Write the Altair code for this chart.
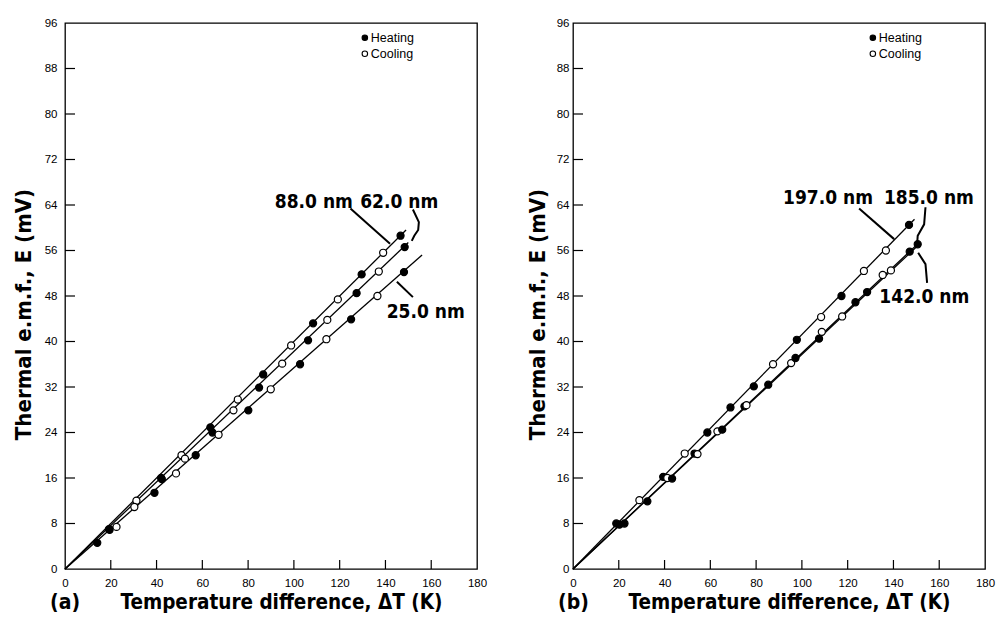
import altair as alt
import pandas as pd

# ---------------- Panel (a) data ----------------
a88_heat_x = [19.2, 42.0, 63.5, 86.6, 108.4, 129.6, 146.6]
a88_heat_y = [7.0, 16.0, 24.9, 34.2, 43.2, 51.8, 58.6]
a88_cool_x = [31.2, 50.9, 75.5, 98.8, 119.2, 139.0]
a88_cool_y = [12.0, 20.0, 29.8, 39.3, 47.4, 55.6]
a88_line_x = [0, 149.0]
a88_line_y = [0, 59.6]

a62_heat_x = [19.5, 42.3, 64.4, 84.8, 106.2, 127.4, 148.4]
a62_heat_y = [6.9, 15.8, 24.0, 31.9, 40.2, 48.5, 56.6]
a62_cool_x = [30.3, 52.4, 73.6, 94.9, 114.6, 137.1]
a62_cool_y = [10.9, 19.4, 27.9, 36.1, 43.8, 52.3]
a62_line_x = [0, 150.0]
a62_line_y = [0, 57.4]

a25_heat_x = [14.1, 39.1, 57.1, 80.1, 102.7, 125.0, 148.1]
a25_heat_y = [4.6, 13.4, 20.0, 27.9, 36.0, 43.9, 52.2]
a25_cool_x = [22.5, 48.5, 67.1, 89.9, 114.2, 136.5]
a25_cool_y = [7.4, 16.8, 23.6, 31.6, 40.4, 48.0]
a25_line_x = [0, 156.0]
a25_line_y = [0, 55.2]

a_label_text = ["88.0 nm", "62.0 nm", "25.0 nm"]
a_label_x = [108.7, 146.0, 157.6]
a_label_y = [64.6, 64.6, 45.2]

a88_lead_x = [124.7, 142.0]
a88_lead_y = [63.4, 57.2]
a62_lead_x = [152.0, 154.6, 154.3, 152.6, 151.5]
a62_lead_y = [63.2, 61.0, 59.6, 58.6, 57.7]
a25_lead_x = [145.0, 152.0]
a25_lead_y = [50.5, 47.8]

# ---------------- Panel (b) data ----------------
b197_heat_x = [18.9, 39.4, 58.7, 68.8, 79.0, 97.8, 117.3, 146.8]
b197_heat_y = [8.0, 16.2, 24.0, 28.4, 32.1, 40.3, 48.0, 60.5]
b197_cool_x = [29.0, 48.8, 87.4, 108.4, 127.1, 136.7]
b197_cool_y = [12.1, 20.3, 36.0, 44.3, 52.4, 56.0]
b197_line_x = [0, 149.2]
b197_line_y = [0, 61.5]

b185_heat_x = [20.3, 53.1, 74.9, 107.5, 123.4, 150.6]
b185_heat_y = [7.8, 20.3, 28.6, 40.5, 46.9, 57.1]
b185_cool_x = [41.2, 63.1, 95.3, 117.6, 138.9]
b185_cool_y = [16.0, 24.2, 36.2, 44.4, 52.5]
b185_line_x = [0, 151.5]
b185_line_y = [0, 57.5]

b142_heat_x = [22.5, 32.5, 43.3, 65.2, 85.3, 97.2, 128.5, 147.1]
b142_heat_y = [8.0, 11.9, 15.9, 24.5, 32.4, 37.1, 48.7, 55.8]
b142_cool_x = [54.4, 75.8, 108.7, 135.3]
b142_cool_y = [20.2, 28.8, 41.7, 51.7]
b142_line_x = [0, 150.0]
b142_line_y = [0, 56.6]

b_label_text = ["197.0 nm", "185.0 nm", "142.0 nm"]
b_label_x = [111.4, 155.5, 153.5]
b_label_y = [65.3, 65.3, 47.8]

b197_lead_x = [125.0, 140.3]
b197_lead_y = [63.4, 58.0]
b185_lead_x = [154.0, 153.4, 150.6, 150.4]
b185_lead_y = [63.6, 60.6, 58.6, 57.4]
b142_lead_x = [150.8, 154.0, 154.7]
b142_lead_y = [55.6, 53.6, 50.3]

# ---------------- shared ----------------
legend_kind = ["Heating", "Cooling"]
legend_x = [131.0, 131.0]
legend_y = [93.4, 90.6]
x_ticks = [0, 20, 40, 60, 80, 100, 120, 140, 160, 180]
y_ticks = [0, 8, 16, 24, 32, 40, 48, 56, 64, 72, 80, 88, 96]
x_inner_ticks = [20, 40, 60, 80, 100, 120, 140, 160]
y_inner_ticks = [8, 16, 24, 32, 40, 48, 56, 64, 72, 80, 88]

W, H = 412, 546
FONT_B = "DejaVu Sans Condensed, DejaVu Sans"
FONT_R = "Liberation Sans"


def pts_frame(series, hx, hy, cx, cy):
    rows = [dict(series=series, kind="Heating", x=a, y=b) for a, b in zip(hx, hy)]
    rows += [dict(series=series, kind="Cooling", x=a, y=b) for a, b in zip(cx, cy)]
    return rows


def line_frame(series, xs, ys):
    return [dict(series=series, order=i, x=a, y=b) for i, (a, b) in enumerate(zip(xs, ys))]


def panel(points, lines, leaders, labels, letter, ytitle_x, ylab_pad):
    xs = alt.Scale(domain=[0, 180], nice=False, zero=True)
    ys = alt.Scale(domain=[0, 96], nice=False, zero=True)
    xax = alt.Axis(values=x_ticks, ticks=False, domain=False, grid=False,
                   labelPadding=8, labelFont=FONT_R, labelFontSize=11.5, labelColor="black",
                   labelFlush=False,
                   title="Temperature difference, \u0394T (K)", titleFont=FONT_B,
                   titleFontSize=20.5, titleFontWeight="bold", titleColor="black",
                   titleX=216, titleY=33, titleBaseline="middle", titleAnchor="middle")
    yax = alt.Axis(values=y_ticks, ticks=False, domain=False, grid=False,
                   labelPadding=ylab_pad, labelFont=FONT_R, labelFontSize=11.5, labelColor="black",
                   labelFlush=False,
                   title="Thermal e.m.f., E (mV)", titleFont=FONT_B, titleFontSize=22,
                   titleFontWeight="bold", titleColor="black", titleAngle=-90,
                   titleX=ytitle_x, titleY=291, titleBaseline="middle", titleAlign="center")
    X = alt.X("x:Q", scale=xs, axis=xax)
    Y = alt.Y("y:Q", scale=ys, axis=yax)

    lines_l = alt.Chart(pd.DataFrame(lines)).mark_line(color="black", strokeWidth=1.3).encode(
        x=X, y=Y, detail="series:N", order="order:Q")
    lead_l = alt.Chart(pd.DataFrame(leaders)).mark_line(color="black", strokeWidth=2.0).encode(
        x=X, y=Y, detail="series:N", order="order:Q")
    pts_l = alt.Chart(pd.DataFrame(points)).mark_point(
        shape="circle", filled=True, size=50, stroke="black", strokeWidth=1.2, opacity=1).encode(
        x=X, y=Y,
        fill=alt.Fill("kind:N", scale=alt.Scale(domain=["Heating", "Cooling"], range=["black", "white"]),
                      legend=None))
    lab_l = alt.Chart(pd.DataFrame(labels)).mark_text(
        font=FONT_B, fontSize=19, fontWeight="bold", color="black", align="center",
        baseline="middle").encode(x=X, y=Y, text="text:N")
    leg_df = pd.DataFrame(dict(kind=legend_kind, x=legend_x, y=legend_y))
    leg_pts = alt.Chart(leg_df).mark_point(
        shape="circle", filled=True, size=30, stroke="black", strokeWidth=1.1, opacity=1).encode(
        x=X, y=Y,
        fill=alt.Fill("kind:N", scale=alt.Scale(domain=["Heating", "Cooling"], range=["black", "white"]),
                      legend=None))
    leg_txt = alt.Chart(leg_df).mark_text(
        font=FONT_R, fontSize=12.5, color="black", align="left", baseline="middle", dx=6).encode(
        x=X, y=Y, text="kind:N")
    yt = alt.Chart(pd.DataFrame(dict(y=y_inner_ticks))).mark_rule(color="black", strokeWidth=1.2).encode(
        y=Y, x=alt.value(0), x2=alt.value(10))
    xt = alt.Chart(pd.DataFrame(dict(x=x_inner_ticks))).mark_rule(color="black", strokeWidth=1.2).encode(
        x=X, y=alt.value(H), y2=alt.value(H - 9))
    letter_l = alt.Chart(pd.DataFrame(dict(t=[letter]))).mark_text(
        font=FONT_B, fontSize=21, fontWeight="bold", color="black", align="left",
        baseline="middle").encode(x=alt.value(-15), y=alt.value(H + 34), text="t:N")

    return alt.layer(lines_l, lead_l, pts_l, lab_l, leg_pts, leg_txt, yt, xt, letter_l).properties(
        width=W, height=H)


a_points = (pts_frame("88", a88_heat_x, a88_heat_y, a88_cool_x, a88_cool_y)
            + pts_frame("62", a62_heat_x, a62_heat_y, a62_cool_x, a62_cool_y)
            + pts_frame("25", a25_heat_x, a25_heat_y, a25_cool_x, a25_cool_y))
a_lines = (line_frame("88", a88_line_x, a88_line_y) + line_frame("62", a62_line_x, a62_line_y)
           + line_frame("25", a25_line_x, a25_line_y))
a_leads = (line_frame("88", a88_lead_x, a88_lead_y) + line_frame("62", a62_lead_x, a62_lead_y)
           + line_frame("25", a25_lead_x, a25_lead_y))
a_labels = [dict(text=t, x=a, y=b) for t, a, b in zip(a_label_text, a_label_x, a_label_y)]

b_points = (pts_frame("197", b197_heat_x, b197_heat_y, b197_cool_x, b197_cool_y)
            + pts_frame("185", b185_heat_x, b185_heat_y, b185_cool_x, b185_cool_y)
            + pts_frame("142", b142_heat_x, b142_heat_y, b142_cool_x, b142_cool_y))
b_lines = (line_frame("197", b197_line_x, b197_line_y) + line_frame("185", b185_line_x, b185_line_y)
           + line_frame("142", b142_line_x, b142_line_y))
b_leads = (line_frame("197", b197_lead_x, b197_lead_y) + line_frame("185", b185_lead_x, b185_lead_y)
           + line_frame("142", b142_lead_x, b142_lead_y))
b_labels = [dict(text=t, x=a, y=b) for t, a, b in zip(b_label_text, b_label_x, b_label_y)]

left = panel(a_points, a_lines, a_leads, a_labels, "(a)", -42, 8)
right = panel(b_points, b_lines, b_leads, b_labels, "(b)", -36, 4)

chart = alt.hconcat(left, right, spacing=96, bounds="flush").properties(
    padding={"left": 3, "top": 8, "right": 0, "bottom": 2},
    background="white",
).configure_view(stroke="black", strokeWidth=1.3)

chart.save("out.html", embed_options={"renderer": "svg", "actions": False})
